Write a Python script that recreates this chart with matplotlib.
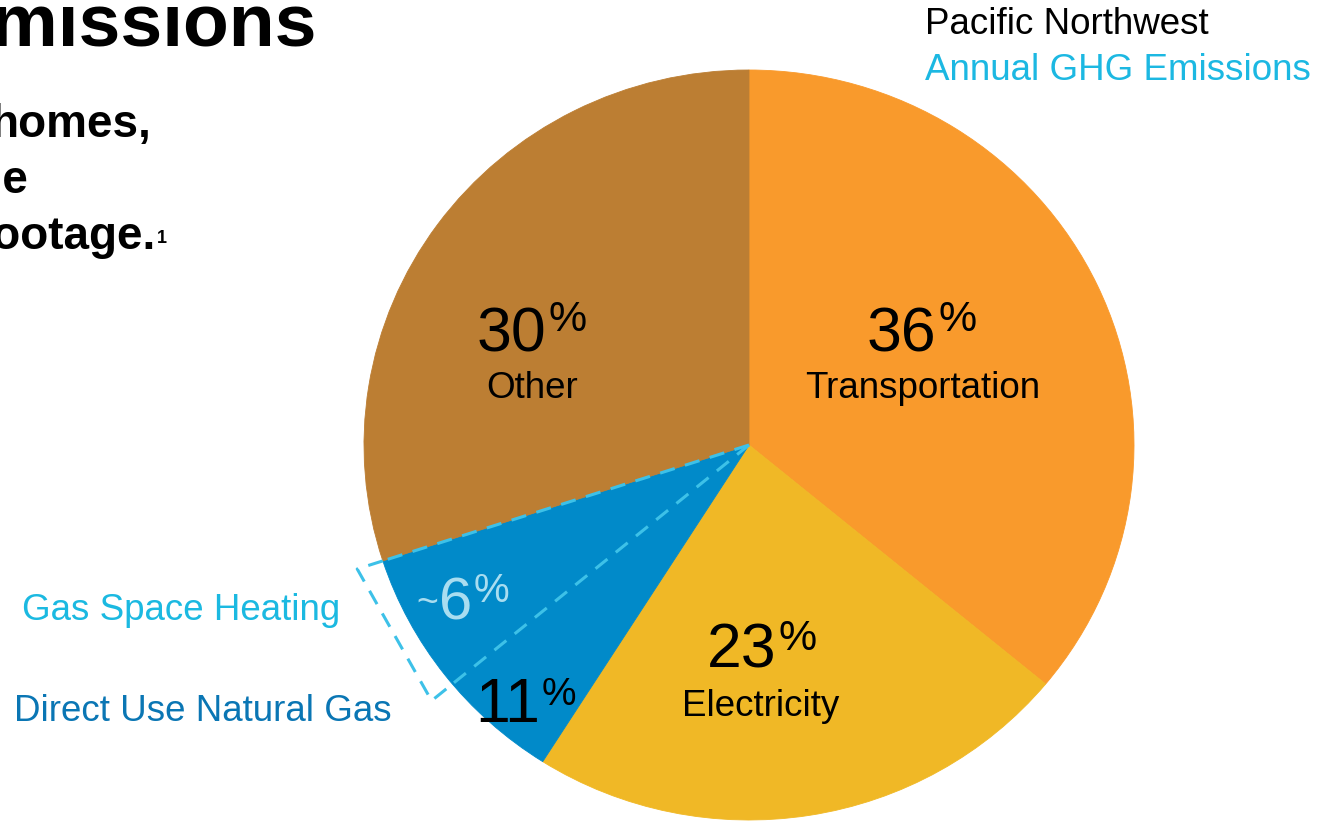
import numpy as np
import matplotlib.pyplot as plt

plt.rcParams['font.family'] = ['Liberation Sans', 'DejaVu Sans']

# Pacific Northwest annual GHG emissions by sector (%)
sectors = ["Transportation", "Electricity", "Direct Use Natural Gas", "Other"]
shares = [36, 23, 11, 30]
heating_share = 6  # part of direct use natural gas that goes to space heating

colors = ["#F99A2C", "#F0B826", "#018AC9", "#BC7E33"]
dash_blue = "#3DC1E8"

W, H = 1326, 823
fig = plt.figure(figsize=(W / 100, H / 100), dpi=100)

# pie sits in its own axes; the slide stretches it a little sideways
pie_box = (364, 70, 770, 750)  # left, top, width, height in pixels
axp = fig.add_axes([pie_box[0] / W, (H - pie_box[1] - pie_box[3]) / H,
                    pie_box[2] / W, pie_box[3] / H])
wedges, _ = axp.pie(shares, colors=colors, startangle=90, counterclock=False,
                    radius=1, wedgeprops=dict(linewidth=0.6))
for w, c in zip(wedges, colors):
    w.set_edgecolor(c)
axp.set_aspect("auto")
axp.set_xlim(-1, 1)
axp.set_ylim(-1, 1)
axp.axis("off")


def polar(angle_deg, rad):
    a = np.radians(angle_deg)
    return rad * np.cos(a), rad * np.sin(a)


# angles of the gas wedge edges, and of the space heating split inside it
gas_end = 90 - 360 * sum(shares[:3]) / 100
heat_start = gas_end + 360 * heating_share / 100

dash = dict(color=dash_blue, lw=2.2, linestyle=(0, (5, 3.5)),
            solid_capstyle="butt", clip_on=False)
for ang in (gas_end, heat_start):
    x1, y1 = polar(ang, 1)
    axp.plot([0, x1], [0, y1], **dash)

# bracket around the space heating slice
ro = 1.07
pts = [polar(gas_end, 1), polar(gas_end, ro), polar(heat_start, ro), polar(heat_start, 1)]
axp.plot([p[0] for p in pts], [p[1] for p in pts], **dash)

# text layer in pixel coordinates
ax = fig.add_axes([0, 0, 1, 1], zorder=3)
ax.set_xlim(0, W)
ax.set_ylim(0, H)
ax.axis("off")


def pct_label(x_right, y_base, value, color="black", size=45, psize=31, lift=20):
    ax.text(x_right, H - y_base, str(value), ha="right", va="baseline",
            fontsize=size, color=color)
    ax.text(x_right + 2, H - (y_base - lift), "%", ha="left", va="baseline",
            fontsize=psize, color=color)


pct_label(936, 351, shares[0])
ax.text(923, H - 398, sectors[0], ha="center", va="baseline", fontsize=26.5)

pct_label(546, 351, shares[3])
ax.text(532, H - 398, sectors[3], ha="center", va="baseline", fontsize=26.5)

pct_label(776, 667, shares[1], lift=17)
ax.text(761, H - 716, sectors[1], ha="center", va="baseline", fontsize=26.5)

pct_label(540, 722, shares[2], lift=17, psize=28)

light = "#A9DDF0"
pct_label(472, 619, heating_share, color=light, lift=17, size=43, psize=29)
ax.text(438, H - 614, "~", ha="right", va="baseline", fontsize=27, color=light)

ax.text(22, H - 620, "Gas Space Heating", ha="left", va="baseline",
        fontsize=26.5, color="#1BB9E1")
ax.text(14, H - 721, "Direct Use Natural Gas", ha="left", va="baseline",
        fontsize=26.5, color="#0A76B4")

ax.text(925, H - 34, "Pacific Northwest", ha="left", va="baseline",
        fontsize=26.5, color="black")
ax.text(925, H - 80, "Annual GHG Emissions", ha="left", va="baseline",
        fontsize=26.5, color="#1CB8E2")

# slide heading running in from the left
ax.text(316, H - 45, "Emissions", ha="right", va="baseline",
        fontsize=54, fontweight="bold")
ax.text(152, H - 137, "homes,", ha="right", va="baseline",
        fontsize=33, fontweight="bold")
ax.text(28, H - 193, "the", ha="right", va="baseline",
        fontsize=33, fontweight="bold")
ax.text(155, H - 249, "footage.", ha="right", va="baseline",
        fontsize=33, fontweight="bold")
ax.text(157, H - 243, "1", ha="left", va="baseline",
        fontsize=13, fontweight="bold")

fig.savefig("out.png", dpi=100)
